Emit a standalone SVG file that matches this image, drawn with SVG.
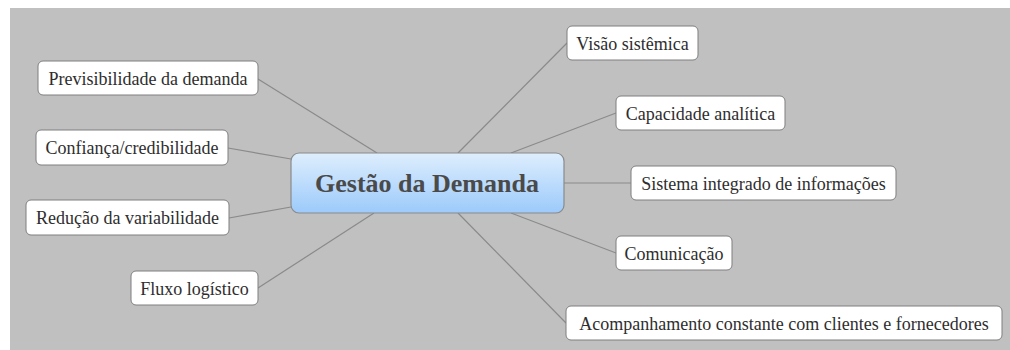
<svg xmlns="http://www.w3.org/2000/svg" width="1010" height="350" viewBox="0 0 1010 350">
<defs>
<linearGradient id="cg" x1="0" y1="0" x2="0" y2="1">
<stop offset="0" stop-color="#deeefd"/>
<stop offset="1" stop-color="#9ccafb"/>
</linearGradient>
<style>
.n rect{fill:#ffffff;stroke:#7f7f7f;stroke-width:1}
.n text{font-family:'Liberation Serif',serif;font-size:18px;fill:#2e2e2e;text-anchor:middle}
#connectors line{stroke:#8a8a8a;stroke-width:1.2}
#center rect{fill:url(#cg);stroke:#8a8a8a;stroke-width:1.2}
#center text{font-family:'Liberation Serif',serif;font-size:26px;font-weight:bold;fill:#4a4a4a;text-anchor:middle}
</style>
</defs>
<rect x="10" y="8" width="1000" height="342" fill="#c0c0c0"/>
<g id="connectors">
<line x1="258" y1="79" x2="377" y2="153"/>
<line x1="228" y1="148" x2="291" y2="159"/>
<line x1="229" y1="218" x2="291" y2="207"/>
<line x1="258" y1="288" x2="374" y2="213"/>
<line x1="567" y1="43" x2="458" y2="153"/>
<line x1="616" y1="113" x2="511" y2="153"/>
<line x1="564" y1="183" x2="631" y2="183"/>
<line x1="616" y1="253" x2="511" y2="213"/>
<line x1="566" y1="323" x2="458" y2="213"/>
</g>
<g id="center">
<rect x="291" y="153" width="273" height="60" rx="8"/>
<text x="427" y="192">Gestão da Demanda</text>
</g>
<g id="n1" class="n"><rect x="38" y="61" width="220" height="34" rx="5"/><text x="148" y="84.5">Previsibilidade da demanda</text></g>
<g id="n2" class="n"><rect x="36" y="130" width="192" height="35" rx="5"/><text x="132" y="154">Confiança/credibilidade</text></g>
<g id="n3" class="n"><rect x="26" y="200" width="203" height="35" rx="5"/><text x="127.5" y="224">Redução da variabilidade</text></g>
<g id="n4" class="n"><rect x="131" y="271" width="127" height="34" rx="5"/><text x="194.5" y="294.5">Fluxo logístico</text></g>
<g id="n5" class="n"><rect x="567" y="26" width="131" height="34" rx="5"/><text x="632.5" y="49.5">Visão sistêmica</text></g>
<g id="n6" class="n"><rect x="616" y="96" width="169" height="34" rx="5"/><text x="700.5" y="119.5">Capacidade analítica</text></g>
<g id="n7" class="n"><rect x="631" y="166" width="265" height="34" rx="5"/><text x="763.5" y="189.5">Sistema integrado de informações</text></g>
<g id="n8" class="n"><rect x="616" y="236" width="116" height="34" rx="5"/><text x="674" y="259.5">Comunicação</text></g>
<g id="n9" class="n"><rect x="566" y="306" width="436" height="34" rx="5"/><text x="784" y="329.5">Acompanhamento constante com clientes e fornecedores</text></g>
</svg>
